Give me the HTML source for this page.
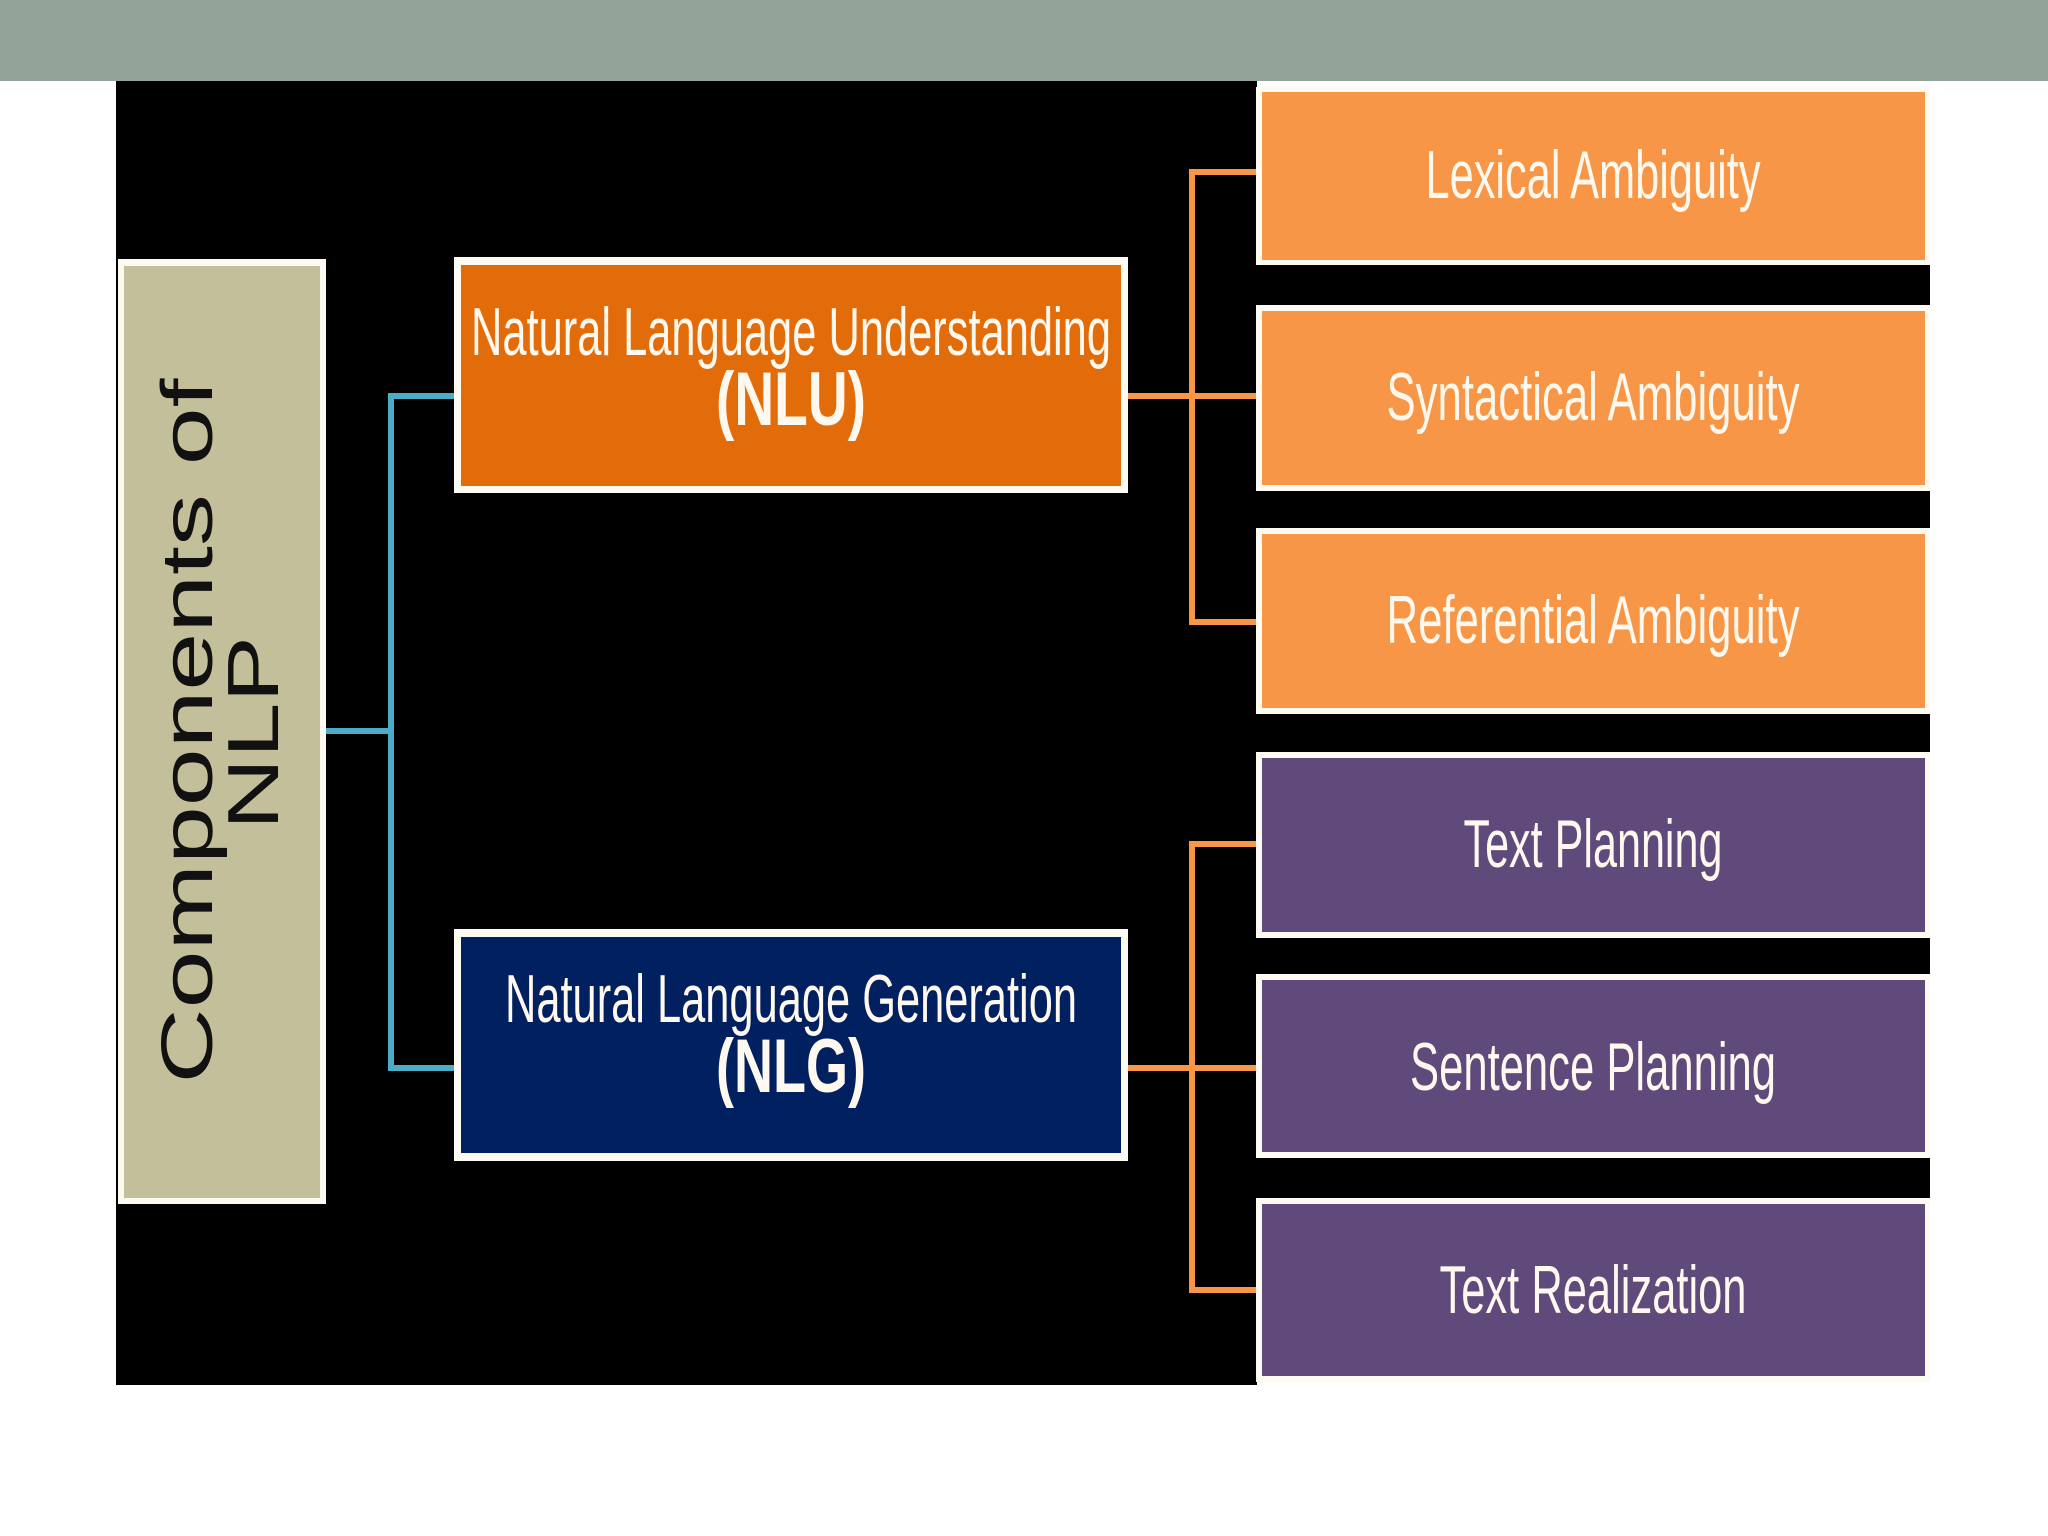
<!DOCTYPE html>
<html><head><meta charset="utf-8"><style>html,body{margin:0;padding:0;background:#fff;}svg{display:block;}</style></head>
<body>
<svg width="2048" height="1536" viewBox="0 0 2048 1536" xmlns="http://www.w3.org/2000/svg" font-family="'Liberation Sans', Arial, sans-serif">
<rect x="0" y="0" width="2048" height="1536" fill="#ffffff"/>
<rect x="0" y="0" width="2048" height="81" fill="#94a398"/>
<rect x="116" y="81" width="1141" height="1304" fill="#000"/>
<rect x="1256" y="262" width="674" height="1120" fill="#000"/>

<!-- blue connectors -->
<g stroke="#4bacc6" stroke-width="6" fill="none">
<polyline points="325,731 391,731"/>
<polyline points="456,396 391,396 391,1068 456,1068"/>
</g>
<!-- orange connectors -->
<g stroke="#f79646" stroke-width="6" fill="none">
<polyline points="1126,396 1258,396"/>
<polyline points="1258,172 1192,172 1192,622 1258,622"/>
<polyline points="1126,1068 1258,1068"/>
<polyline points="1258,844 1192,844 1192,1290 1258,1290"/>
</g>

<!-- Components box -->
<rect x="118" y="259" width="208" height="945" fill="#fdfaf2"/>
<rect x="124" y="266" width="196" height="932" fill="#c4bf9b"/>
<g font-size="72" fill="#111" text-anchor="middle">
<text transform="translate(212,731) rotate(-90)" textLength="705" lengthAdjust="spacingAndGlyphs">Components of</text>
<text transform="translate(278,733) rotate(-90)" textLength="194" lengthAdjust="spacingAndGlyphs">NLP</text>
</g>

<!-- NLU -->
<rect x="454" y="257" width="674" height="236" fill="#fdfaf2"/>
<rect x="461" y="265" width="660" height="221" fill="#e36c0a"/>
<!-- NLG -->
<rect x="454" y="929" width="674" height="232" fill="#fdfaf2"/>
<rect x="461" y="937" width="660" height="216" fill="#002060"/>

<g fill="#fff8ee" font-size="68" text-anchor="middle">
<text x="791" y="355" textLength="640" lengthAdjust="spacingAndGlyphs">Natural Language Understanding</text>
<text x="791" y="425" font-weight="bold" font-size="76" textLength="150" lengthAdjust="spacingAndGlyphs">(NLU)</text>
<text x="791" y="1022" textLength="572" lengthAdjust="spacingAndGlyphs">Natural Language Generation</text>
<text x="791" y="1092" font-weight="bold" font-size="76" textLength="150" lengthAdjust="spacingAndGlyphs">(NLG)</text>
</g>

<!-- right boxes -->
<g fill="#fdfaf2">
<rect x="1256" y="87" width="674" height="178"/>
<rect x="1256" y="305" width="674" height="186"/>
<rect x="1256" y="528" width="674" height="186"/>
<rect x="1256" y="752" width="674" height="186"/>
<rect x="1256" y="974" width="674" height="184"/>
<rect x="1256" y="1198" width="674" height="184"/>
</g>
<g fill="#f79646">
<rect x="1262" y="92" width="663" height="168"/>
<rect x="1262" y="311" width="663" height="174"/>
<rect x="1262" y="534" width="663" height="174"/>
</g>
<g fill="#604a7b">
<rect x="1262" y="758" width="663" height="174"/>
<rect x="1262" y="980" width="663" height="172"/>
<rect x="1262" y="1204" width="663" height="172"/>
</g>
<g fill="#fff8ee" font-size="68" text-anchor="middle">
<text x="1593" y="198" textLength="335" lengthAdjust="spacingAndGlyphs">Lexical Ambiguity</text>
<text x="1593" y="420" textLength="413" lengthAdjust="spacingAndGlyphs">Syntactical Ambiguity</text>
<text x="1593" y="643" textLength="413" lengthAdjust="spacingAndGlyphs">Referential Ambiguity</text>
<text x="1593" y="867" textLength="259" lengthAdjust="spacingAndGlyphs">Text Planning</text>
<text x="1593" y="1090" textLength="366" lengthAdjust="spacingAndGlyphs">Sentence Planning</text>
<text x="1593" y="1313" textLength="307" lengthAdjust="spacingAndGlyphs">Text Realization</text>
</g>
</svg>
</body></html>
